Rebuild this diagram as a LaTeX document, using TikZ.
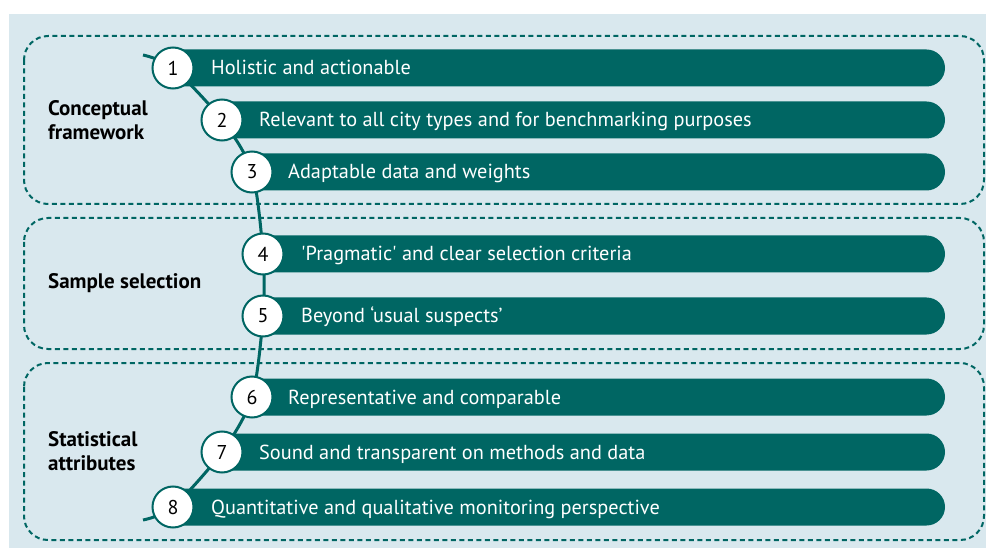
\documentclass[tikz,border=0pt]{standalone}
\usepackage{fontspec}
\setmainfont{PT Sans}
\usetikzlibrary{backgrounds}
\definecolor{ecteal}{HTML}{006663}
\definecolor{ecpale}{HTML}{D9E8EE}

\begin{document}
\begin{tikzpicture}
  [x=1pt,y=-1pt,
   num/.style={circle,draw=ecteal,line width=2pt,fill=white,minimum size=41pt,inner sep=0pt,font=\fontsize{20}{22}\selectfont},
   item/.style={anchor=base west,text=white,inner sep=0pt,font=\fontsize{20.3}{22}\selectfont},
   group/.style={anchor=west,align=left,inner sep=0pt,font=\fontsize{21}{24}\selectfont\bfseries},
   frame/.style={draw=ecteal,line width=2pt,dash pattern=on 5pt off 3.5pt,rounded corners=24pt},
   bar/.style={fill=ecteal,rounded corners=18.5pt},
   spine/.style={draw=ecteal,line width=3pt}]
  \useasboundingbox (0,0) rectangle (986,548);

  % numbered steps
  \foreach \n/\x/\y in {1/173/68,2/222/120,3/252/172,4/263/254,5/263/316,6/252/397,7/222/452,8/173/507}
    \node[num] (\n) at (\x,\y) {\n};

  \node[item] (t1) at (211,75)  {Holistic and actionable};
  \node[item] (t2) at (259,127) {Relevant to all city types and for benchmarking purposes};
  \node[item] (t3) at (288,179) {Adaptable data and weights};
  \node[item] (t4) at (301,261) {\textquotesingle Pragmatic\textquotesingle{} and clear selection criteria};
  \node[item] (t5) at (301,323) {Beyond ‘usual suspects’};
  \node[item] (t6) at (288,404) {Representative and comparable};
  \node[item] (t7) at (259,459) {Sound and transparent on methods and data};
  \node[item] (t8) at (211,514) {Quantitative and qualitative monitoring perspective};

  \node[group] (g1) at (48,120) {Conceptual\\framework};
  \node[group] (g2) at (48,283) {Sample selection};
  \node[group] (g3) at (48,451) {Statistical\\attributes};

  \coordinate (top) at (143,55);
  \coordinate (bot) at (143,520);

  \begin{pgfonlayer}{background}
    \fill[ecpale] (9,14) rectangle (986,548);
    \draw[frame] (24,36) rectangle (984,204);
    \draw[frame] (24,218) rectangle (984,349);
    \draw[frame] (24,363) rectangle (984,540);
    \draw[spine] plot[smooth,tension=0.5] coordinates {(top) (1) (2) (3) (4) (5) (6) (7) (8) (bot)};
    \foreach \x/\y in {173/68,222/120,252/172,263/254,263/316,252/397,222/452,173/507}
      \path[bar] (\x-20,\y-18.5) rectangle (945,\y+18.5);
  \end{pgfonlayer}

\end{tikzpicture}
\end{document}
